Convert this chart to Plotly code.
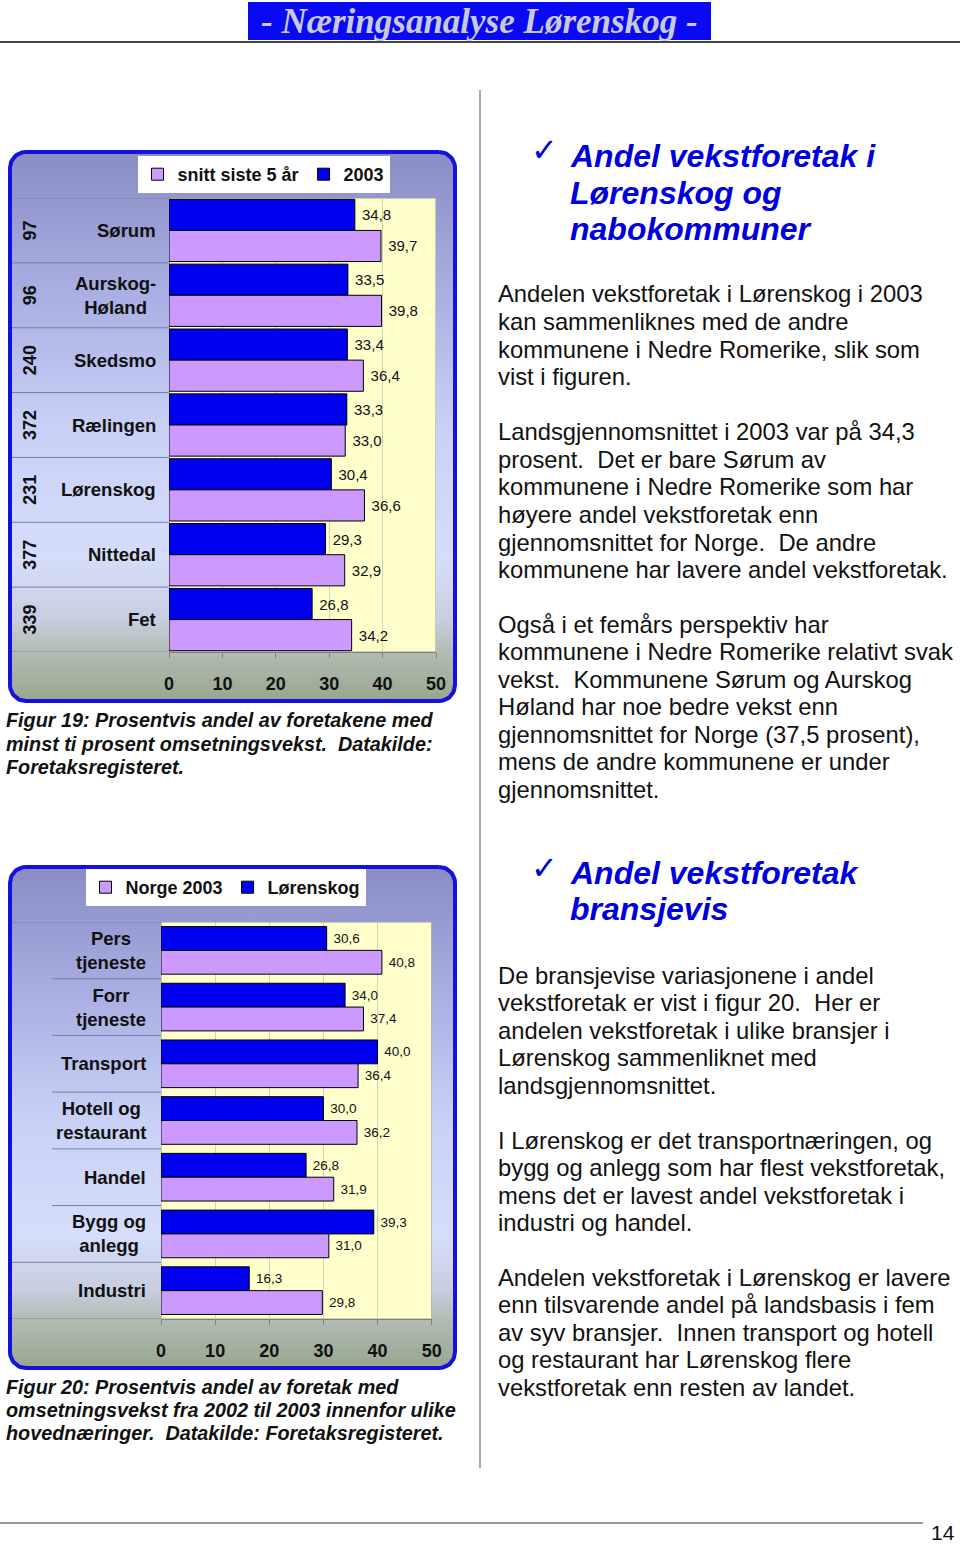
import plotly.graph_objects as go
import numpy as np

W, H = 960, 1546

# ---------------- data ----------------
kommuner = ["Sørum", "Aurskog-Høland", "Skedsmo", "Rælingen", "Lørenskog", "Nittedal", "Fet"]
kommune_labels = ["Sørum", "Aurskog-<br>Høland", "Skedsmo", "Rælingen", "Lørenskog", "Nittedal", "Fet"]
kommune_nr = ["97", "96", "240", "372", "231", "377", "339"]
andel_2003 = [34.8, 33.5, 33.4, 33.3, 30.4, 29.3, 26.8]
andel_snitt5 = [39.7, 39.8, 36.4, 33.0, 36.6, 32.9, 34.2]

bransjer = ["Pers tjeneste", "Forr tjeneste", "Transport", "Hotell og restaurant",
            "Handel", "Bygg og anlegg", "Industri"]
bransje_labels = ["Pers<br>tjeneste", "Forr<br>tjeneste", "Transport", "Hotell og<br>restaurant",
                  "Handel", "Bygg og<br>anlegg", "Industri"]
andel_lorenskog = [30.6, 34.0, 40.0, 30.0, 26.8, 39.3, 16.3]
andel_norge = [40.8, 37.4, 36.4, 36.2, 31.9, 31.0, 29.8]

x_ticks = [0, 10, 20, 30, 40, 50]

header_text = "- Næringsanalyse Lørenskog -"
caption19 = ["Figur 19: Prosentvis andel av foretakene med",
             "minst ti prosent omsetningsvekst.\u00a0 Datakilde:",
             "Foretaksregisteret."]
caption20 = ["Figur 20: Prosentvis andel av foretak med",
             "omsetningsvekst fra 2002 til 2003 innenfor ulike",
             "hovednæringer.\u00a0 Datakilde: Foretaksregisteret."]
heading1 = ["Andel vekstforetak i", "Lørenskog og", "nabokommuner"]
heading2 = ["Andel vekstforetak", "bransjevis"]
paragraphs = [
    (294, ["Andelen vekstforetak i Lørenskog i 2003",
           "kan sammenliknes med de andre",
           "kommunene i Nedre Romerike, slik som",
           "vist i figuren."]),
    (432, ["Landsgjennomsnittet i 2003 var på 34,3",
           "prosent.\u00a0 Det er bare Sørum av",
           "kommunene i Nedre Romerike som har",
           "høyere andel vekstforetak enn",
           "gjennomsnittet for Norge.\u00a0 De andre",
           "kommunene har lavere andel vekstforetak."]),
    (624, ["Også i et femårs perspektiv har",
           "kommunene i Nedre Romerike relativt svak",
           "vekst.\u00a0 Kommunene Sørum og Aurskog",
           "Høland har noe bedre vekst enn",
           "gjennomsnittet for Norge (37,5 prosent),",
           "mens de andre kommunene er under",
           "gjennomsnittet."]),
    (975, ["De bransjevise variasjonene i andel",
           "vekstforetak er vist i figur 20.\u00a0 Her er",
           "andelen vekstforetak i ulike bransjer i",
           "Lørenskog sammenliknet med",
           "landsgjennomsnittet."]),
    (1140, ["I Lørenskog er det transportnæringen, og",
            "bygg og anlegg som har flest vekstforetak,",
            "mens det er lavest andel vekstforetak i",
            "industri og handel."]),
    (1277, ["Andelen vekstforetak i Lørenskog er lavere",
            "enn tilsvarende andel på landsbasis i fem",
            "av syv bransjer.\u00a0 Innen transport og hotell",
            "og restaurant har Lørenskog flere",
            "vekstforetak enn resten av landet."]),
]
page_number = "14"

# ---------------- helpers ----------------
def px(x):
    return x / W

def py(y):
    return 1 - y / H

def fmt(v):
    return "\u00a0" + f"{v:.1f}".replace(".", ",")

def rrect(x0, y0, x1, y1, r, n=14):
    pts = []
    corners = [((x1 - r, y0 + r), -90, 0), ((x1 - r, y1 - r), 0, 90),
               ((x0 + r, y1 - r), 90, 180), ((x0 + r, y0 + r), 180, 270)]
    for (cx, cy), a0, a1 in corners:
        for a in np.linspace(np.radians(a0), np.radians(a1), n):
            pts.append((cx + r * np.cos(a), cy + r * np.sin(a)))
    pts.append(pts[0])
    xs, ys = zip(*pts)
    return list(xs), list(ys)

FONT = "Liberation Sans"
BLUE = "#0000F0"
LAV = "#CC99FF"
TXT = "#111111"

fig = go.Figure()

# chart frames with vertical gradient (page-level invisible axes in pixels)
def frame(y0, y1, yplot_bottom):
    h = y1 - y0
    fb = (yplot_bottom - y0) / h
    stops = [[0.0, "#8a8cc4"], [0.25, "#a8aee2"], [0.5, "#c8d0f6"],
             [fb - 0.17, "#d6ddfa"], [fb - 0.06, "#c8cedf"], [fb, "#b2bcb4"],
             [1.0, "#98a68e"]]
    xs, ys = rrect(10, y0, 455, y1, 16)
    fig.add_trace(go.Scatter(
        x=xs, y=ys, xaxis="x", yaxis="y", mode="lines", fill="toself",
        fillgradient=dict(type="vertical", colorscale=stops, start=y0, stop=y1),
        line=dict(color="#1212DC", width=4), hoverinfo="skip", showlegend=False))

frame(152, 701, 652)
frame(867, 1368, 1319)

# ---------------- bars: chart 1 ----------------
fig.add_trace(go.Bar(
    name="2003", y=kommuner, x=andel_2003, orientation="h", xaxis="x2", yaxis="y2",
    width=0.48, offset=-0.48,
    marker=dict(color=BLUE, line=dict(color="#000000", width=1)),
    text=[fmt(v) for v in andel_2003], textposition="outside",
    textfont=dict(family=FONT, size=15, color=TXT), cliponaxis=False,
    legend="legend", legendrank=2, hoverinfo="skip"))
fig.add_trace(go.Bar(
    name="snitt siste 5 år", y=kommuner, x=andel_snitt5, orientation="h", xaxis="x2", yaxis="y2",
    width=0.48, offset=0.0,
    marker=dict(color=LAV, line=dict(color="#000000", width=1)),
    text=[fmt(v) for v in andel_snitt5], textposition="outside",
    textfont=dict(family=FONT, size=15, color=TXT), cliponaxis=False,
    legend="legend", legendrank=1, hoverinfo="skip"))

# ---------------- bars: chart 2 ----------------
fig.add_trace(go.Bar(
    name="Lørenskog", y=bransjer, x=andel_lorenskog, orientation="h", xaxis="x3", yaxis="y3",
    width=0.42, offset=-0.42,
    marker=dict(color=BLUE, line=dict(color="#000000", width=1)),
    text=[fmt(v) for v in andel_lorenskog], textposition="outside",
    textfont=dict(family=FONT, size=13.5, color=TXT), cliponaxis=False,
    legend="legend2", legendrank=2, hoverinfo="skip"))
fig.add_trace(go.Bar(
    name="Norge 2003", y=bransjer, x=andel_norge, orientation="h", xaxis="x3", yaxis="y3",
    width=0.42, offset=0.0,
    marker=dict(color=LAV, line=dict(color="#000000", width=1)),
    text=[fmt(v) for v in andel_norge], textposition="outside",
    textfont=dict(family=FONT, size=13.5, color=TXT), cliponaxis=False,
    legend="legend2", legendrank=1, hoverinfo="skip"))

shapes = []
annotations = []

def ann(x, y, text, size, weight="normal", style="normal", color=TXT, xanchor="left",
        family=FONT, xref="paper", yref="paper", **kw):
    annotations.append(dict(x=x, y=y, xref=xref, yref=yref, text=text, showarrow=False,
                            xanchor=xanchor, yanchor=kw.pop("yanchor", "middle"),
                            font=dict(family=family, size=size, color=color,
                                      weight=weight, style=style), **kw))

axis_common = dict(range=[0, 50], tickvals=x_ticks, ticks="outside", ticklen=5,
                   tickcolor="#808080", showgrid=True, gridcolor="#d2d2b4", gridwidth=1,
                   showline=True, linecolor="#808080", linewidth=1, zeroline=False,
                   tickfont=dict(family=FONT, size=18, weight="bold", color=TXT),
                   ticklabelstandoff=10, fixedrange=True)

def chart_deco(xa, ya, cats, labels, label_right, sep_starts, plot_left):
    n = len(cats)
    shapes.append(dict(type="rect", xref=xa, yref=ya, x0=0, x1=50, y0=-0.5, y1=n - 0.5,
                       fillcolor="#FFFFCC", line=dict(color="#9a9a9a", width=1), layer="below"))
    for i in range(n + 1):
        shapes.append(dict(type="line", xref="paper", yref=ya, x0=px(sep_starts[i]), x1=px(plot_left),
                           y0=i - 0.5, y1=i - 0.5, line=dict(color="#7482a2", width=1), layer="above"))
    for i, lab in enumerate(labels):
        ann(px(label_right), i, lab, 18.5, weight="bold", xanchor="right", yref=ya, align="center")

# chart 1 decorations
chart_deco("x2", "y2", kommuner, kommune_labels, 158, [12] * 8, 169)
for i, nr in enumerate(kommune_nr):
    ann(px(30), i, nr, 18, weight="bold", xanchor="center", yref="y2", textangle=-90)

# chart 2 decorations
sep2 = [12, 52, 52, 52, 52, 52, 12, 12]
chart_deco("x3", "y3", bransjer, bransje_labels, 148, sep2, 161)

# header
shapes.append(dict(type="rect", xref="paper", yref="paper", x0=px(248), x1=px(711),
                   y0=py(40), y1=py(2), fillcolor="#0A0AF2", line=dict(width=0), layer="below"))
ann(px(479.5), py(22), header_text, 35, weight="bold", style="italic", color="#C8CADC",
    xanchor="center", family="Liberation Serif")
shapes.append(dict(type="line", xref="paper", yref="paper", x0=0, x1=1, y0=py(42), y1=py(42),
                   line=dict(color="#444444", width=2), layer="above"))
shapes.append(dict(type="line", xref="paper", yref="paper", x0=px(480), x1=px(480),
                   y0=py(90), y1=py(1468), line=dict(color="#555555", width=1), layer="above"))
shapes.append(dict(type="line", xref="paper", yref="paper", x0=0, x1=px(923),
                   y0=py(1523), y1=py(1523), line=dict(color="#333333", width=1), layer="above"))
ann(px(956), py(1545), page_number, 21, xanchor="right", yanchor="bottom", borderpad=0)

# captions
for k, line in enumerate(caption19):
    ann(px(3.5), py(720 + k * 23.5), line, 19.8, weight="bold", style="italic")
for k, line in enumerate(caption20):
    ann(px(3.5), py(1387 + k * 23), line, 19.8, weight="bold", style="italic")

# headings
HBLUE = "#0000DD"
ann(px(544), py(150), "\u2713", 32, color=HBLUE, xanchor="center", family="DejaVu Sans")
for k, line in enumerate(heading1):
    ann(px(567.5), py(156 + k * 36.5), line, 32, weight="bold", style="italic", color=HBLUE)
ann(px(544), py(868), "\u2713", 32, color=HBLUE, xanchor="center", family="DejaVu Sans")
for k, line in enumerate(heading2):
    ann(px(567.5), py(873 + k * 36.5), line, 32, weight="bold", style="italic", color=HBLUE)

# paragraphs
for y0, lines in paragraphs:
    for k, line in enumerate(lines):
        ann(px(495.5), py(y0 + k * 27.5), line, 23.8)

fig.update_layout(
    width=W, height=H, autosize=False, margin=dict(l=0, r=0, t=0, b=0, pad=0, autoexpand=False),
    paper_bgcolor="white", plot_bgcolor="rgba(0,0,0,0)",
    barmode="overlay", showlegend=True,
    font=dict(family=FONT, color=TXT),
    xaxis=dict(domain=[0, 1], range=[0, W], visible=False, fixedrange=True),
    yaxis=dict(domain=[0, 1], range=[H, 0], visible=False, fixedrange=True),
    xaxis2=dict(domain=[px(169), px(436)], anchor="y2", **axis_common),
    yaxis2=dict(domain=[py(652), py(198)], anchor="x2", type="category",
                categoryorder="array", categoryarray=kommuner, range=[6.5, -0.5],
                showticklabels=False, showgrid=False, zeroline=False, ticks="", fixedrange=True),
    xaxis3=dict(domain=[px(161), px(431.7)], anchor="y3", **axis_common),
    yaxis3=dict(domain=[py(1319), py(922)], anchor="x3", type="category",
                categoryorder="array", categoryarray=bransjer, range=[6.5, -0.5],
                showticklabels=False, showgrid=False, zeroline=False, ticks="", fixedrange=True),
    legend=dict(orientation="h", x=px(263.5), xanchor="center", y=py(156), yanchor="top",
                bgcolor="white", borderwidth=0,
                font=dict(family=FONT, size=18, weight="bold", color=TXT)),
    legend2=dict(orientation="h", x=px(225.5), xanchor="center", y=py(869), yanchor="top",
                 bgcolor="white", borderwidth=0,
                 font=dict(family=FONT, size=18, weight="bold", color=TXT)),
    shapes=shapes, annotations=annotations,
)

fig.write_html(
    "out.html",
    config={"responsive": False},
    post_script="document.documentElement.style.overflow='hidden';"
                "document.body.style.overflow='hidden';document.body.style.margin='0';",
)
